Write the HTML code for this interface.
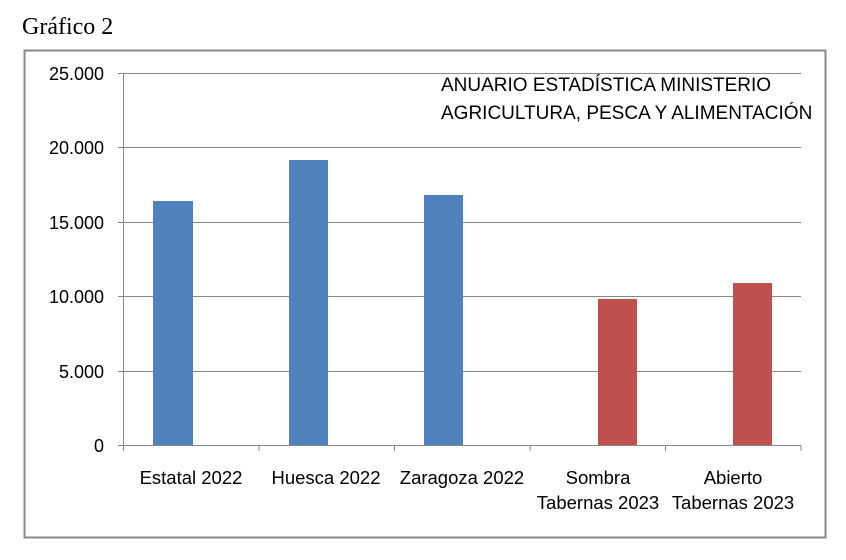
<!DOCTYPE html><html><head><style>body{margin:0;background:#fff}svg{display:block}</style></head><body>
<svg width="846" height="560" xmlns="http://www.w3.org/2000/svg">
<text x="22" y="34" font-family="Liberation Serif, serif" font-size="24" fill="#000">Gráfico 2</text>
<rect x="24.5" y="50.5" width="801" height="487" fill="#fff" stroke="#888" stroke-width="2"/>
<g stroke="#888" stroke-width="1">
<line x1="118" y1="73.5" x2="801" y2="73.5"/><line x1="118" y1="147.5" x2="801" y2="147.5"/>
<line x1="118" y1="222.5" x2="801" y2="222.5"/><line x1="118" y1="296.5" x2="801" y2="296.5"/>
<line x1="118" y1="371.5" x2="801" y2="371.5"/><line x1="118" y1="445.5" x2="801" y2="445.5"/>
<line x1="123.5" y1="73" x2="123.5" y2="445"/>
<line x1="123.5" y1="445" x2="123.5" y2="451"/><line x1="259" y1="445" x2="259" y2="451"/>
<line x1="394.5" y1="445" x2="394.5" y2="451"/><line x1="530" y1="445" x2="530" y2="451"/>
<line x1="665.5" y1="445" x2="665.5" y2="451"/><line x1="801" y1="445" x2="801" y2="451"/>
</g>
<g font-family="Liberation Sans, sans-serif" font-size="18" fill="#000" text-anchor="end">
<text x="104" y="80">25.000</text><text x="104" y="154">20.000</text><text x="104" y="229">15.000</text>
<text x="104" y="303">10.000</text><text x="104" y="378">5.000</text><text x="104" y="452">0</text>
</g>
<rect x="153" y="201" width="40" height="244" fill="#4f81bd"/>
<rect x="289" y="160" width="39" height="285" fill="#4f81bd"/>
<rect x="424" y="195" width="39" height="250" fill="#4f81bd"/>
<rect x="598" y="299" width="39" height="146" fill="#c0504d"/>
<rect x="733" y="283" width="39" height="162" fill="#c0504d"/>
<g font-family="Liberation Sans, sans-serif" font-size="18.5" fill="#000" text-anchor="middle">
<text x="191" y="484">Estatal 2022</text><text x="326" y="484">Huesca 2022</text>
<text x="462" y="484">Zaragoza 2022</text>
<text x="598" y="484">Sombra</text><text x="598" y="509">Tabernas 2023</text>
<text x="733" y="484">Abierto</text><text x="733" y="509">Tabernas 2023</text>
</g>
<g font-family="Liberation Sans, sans-serif" font-size="19" fill="#000">
<text x="441" y="91">ANUARIO ESTADÍSTICA MINISTERIO</text>
<text x="441" y="119">AGRICULTURA, PESCA Y ALIMENTACIÓN</text>
</g>
</svg></body></html>
